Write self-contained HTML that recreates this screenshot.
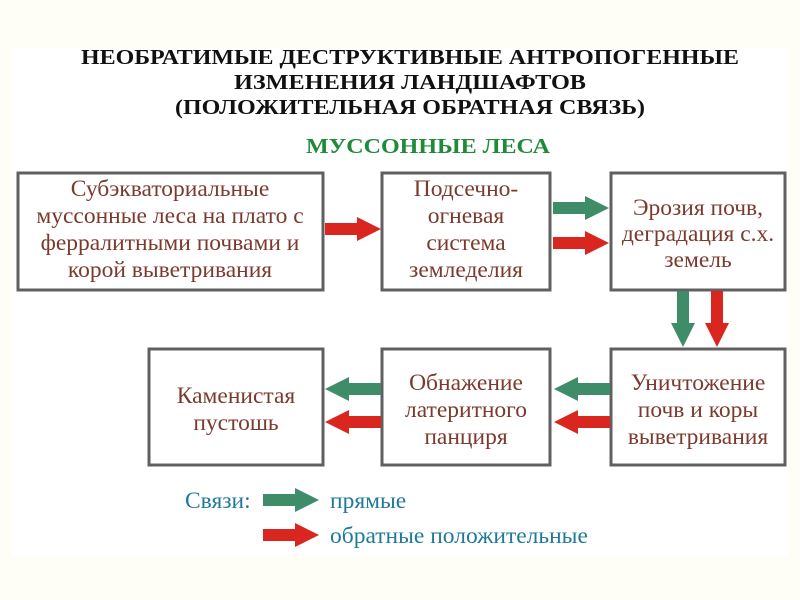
<!DOCTYPE html>
<html><head><meta charset="utf-8"><style>
html,body{margin:0;padding:0;background:#fefdf6;}
svg{display:block;}
.t{font-family:"Liberation Serif",serif;font-weight:bold;fill:#111;font-size:21px;}
.b{font-family:"Liberation Serif",serif;fill:#7b3a2e;font-size:23.5px;text-anchor:middle;}
.l{font-family:"Liberation Serif",serif;fill:#1f7a9a;font-size:23.5px;}
</style></head><body>
<svg width="800" height="600" viewBox="0 0 800 600">
<rect x="0" y="0" width="800" height="600" fill="#fefdf6"/>
<rect x="12" y="48" width="776" height="508" fill="#ffffff"/>
<text class="t" x="410" y="64" text-anchor="middle" textLength="658" lengthAdjust="spacingAndGlyphs">НЕОБРАТИМЫЕ ДЕСТРУКТИВНЫЕ АНТРОПОГЕННЫЕ</text>
<text class="t" x="410" y="89" text-anchor="middle" textLength="352" lengthAdjust="spacingAndGlyphs">ИЗМЕНЕНИЯ ЛАНДШАФТОВ</text>
<text class="t" x="410" y="114" text-anchor="middle" textLength="470" lengthAdjust="spacingAndGlyphs">(ПОЛОЖИТЕЛЬНАЯ ОБРАТНАЯ СВЯЗЬ)</text>
<text class="t" x="428" y="153" text-anchor="middle" style="fill:#1f8a3a" textLength="244" lengthAdjust="spacingAndGlyphs">МУССОННЫЕ ЛЕСА</text>
<g fill="#fff" stroke="#606060" stroke-width="3">
<rect x="18" y="173" width="305" height="117"/>
<rect x="382" y="173" width="168" height="117"/>
<rect x="611" y="173" width="174" height="117"/>
<rect x="149" y="349" width="174" height="116"/>
<rect x="382" y="349" width="168" height="116"/>
<rect x="611" y="349" width="174" height="116"/>
</g>
<g class="b">
<text x="170" y="196">Субэкваториальные</text>
<text x="170" y="223">муссонные леса на плато с</text>
<text x="170" y="250">ферралитными почвами и</text>
<text x="170" y="277">корой выветривания</text>
<text x="466" y="196">Подсечно-</text>
<text x="466" y="223">огневая</text>
<text x="466" y="250">система</text>
<text x="466" y="277">земледелия</text>
<text x="698" y="215">Эрозия почв,</text>
<text x="698" y="241">деградация с.х.</text>
<text x="698" y="267">земель</text>
<text x="236" y="403">Каменистая</text>
<text x="236" y="430">пустошь</text>
<text x="466" y="390">Обнажение</text>
<text x="466" y="417">латеритного</text>
<text x="466" y="444">панциря</text>
<text x="698" y="390">Уничтожение</text>
<text x="698" y="417">почв и коры</text>
<text x="698" y="444">выветривания</text>
</g>
<defs>
<polygon id="ar" points="0,-6 32,-6 32,-12 56,0 32,12 32,6 0,6"/>
</defs>
<use href="#ar" x="325" y="229" fill="#d9261f"/>
<use href="#ar" x="553" y="208" fill="#3f8c68"/>
<use href="#ar" x="553" y="243" fill="#d9261f"/>
<use href="#ar" transform="translate(683,291) rotate(90)" fill="#3f8c68"/>
<use href="#ar" transform="translate(717,291) rotate(90)" fill="#d9261f"/>
<use href="#ar" transform="translate(381,389) rotate(180)" fill="#3f8c68"/>
<use href="#ar" transform="translate(381,422) rotate(180)" fill="#d9261f"/>
<use href="#ar" transform="translate(610,389) rotate(180)" fill="#3f8c68"/>
<use href="#ar" transform="translate(610,422) rotate(180)" fill="#d9261f"/>
<use href="#ar" x="263" y="500" fill="#3f8c68"/>
<use href="#ar" x="263" y="535" fill="#d9261f"/>
<text class="l" x="185" y="508">Связи:</text>
<text class="l" x="330" y="508">прямые</text>
<text class="l" x="330" y="543">обратные положительные</text>
</svg>
</body></html>
